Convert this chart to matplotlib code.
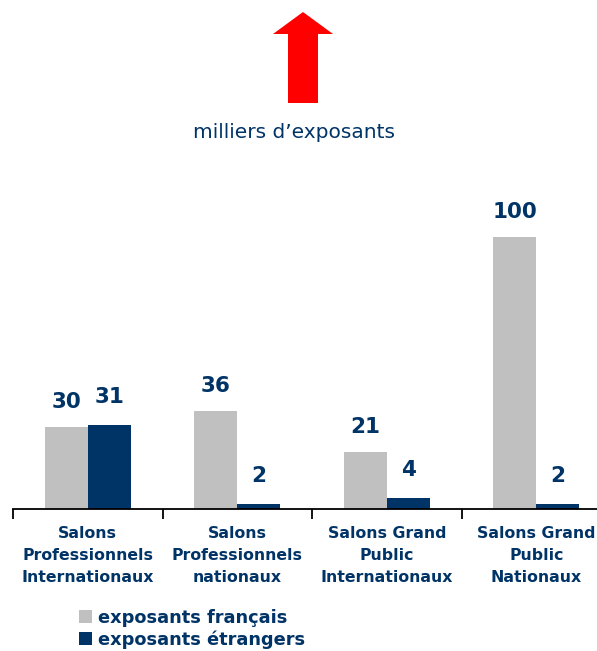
import matplotlib
matplotlib.use("Agg")
import matplotlib.pyplot as plt
from matplotlib.patches import Polygon
import numpy as np

categories = ["Salons\nProfessionnels\nInternationaux",
              "Salons\nProfessionnels\nnationaux",
              "Salons Grand\nPublic\nInternationaux",
              "Salons Grand\nPublic\nNationaux"]
francais = [30, 36, 21, 100]
etrangers = [31, 2, 4, 2]
series_names = ["exposants français", "exposants étrangers"]
unit_label = "milliers d\u2019exposants"

GRAY = "#c0c0c0"
NAVY = "#003366"

W, H = 597, 651
fig = plt.figure(figsize=(W / 100, H / 100), dpi=100)

# axes in pixel geometry
ax_left, ax_bottom_px, ax_w, ax_h = 13, 509, 598, 299.2
ax = fig.add_axes([ax_left / W, (H - ax_bottom_px) / H, ax_w / W, ax_h / H])

x = np.arange(len(categories))
bw = 0.288
ax.bar(x - bw / 2, francais, bw, color=GRAY, label=series_names[0])
ax.bar(x + bw / 2, etrangers, bw, color=NAVY, label=series_names[1])

for xi, v in zip(x - bw / 2, francais):
    ax.annotate(str(v), (xi, v), xytext=(0, 11), textcoords="offset points",
                ha="center", va="bottom", fontsize=15.5, fontweight="bold", color=NAVY)
for xi, v in zip(x + bw / 2, etrangers):
    ax.annotate(str(v), (xi, v), xytext=(0, 13), textcoords="offset points",
                ha="center", va="bottom", fontsize=15.5, fontweight="bold", color=NAVY)

ax.set_xlim(-0.5, len(categories) - 0.5)
ax.set_ylim(0, 110)
for s in ["top", "right", "left"]:
    ax.spines[s].set_visible(False)
ax.spines["bottom"].set_linewidth(1.3)
ax.set_yticks([])
ax.set_xticks(x)
ax.set_xticklabels(categories, fontsize=11.3, fontweight="bold", color=NAVY, linespacing=1.58)
ax.tick_params(axis="x", which="major", length=0, pad=12)
ax.set_xticks(np.arange(-0.5, len(categories) - 0.5 + 0.01, 1.0), minor=True)
ax.tick_params(axis="x", which="minor", length=7, width=1.3, direction="out")

# legend
handles, labels = ax.get_legend_handles_labels()
leg = fig.legend(handles, labels, loc="upper left", bbox_to_anchor=(72 / W, 1 - 602 / H),
                 frameon=False, prop={"size": 12.8, "weight": "bold"},
                 handlelength=0.75, handleheight=0.75, handletextpad=0.3, labelspacing=0.2,
                 borderaxespad=0.0)
for t in leg.get_texts():
    t.set_color(NAVY)

# unit label and red arrow
fig.text(294 / W, 1 - 133 / H, unit_label, ha="center", va="center", fontsize=14.5, color=NAVY)
pts = [(303, 12), (333, 34), (318, 34), (318, 103), (288, 103), (288, 34), (273, 34)]
arrow = Polygon([(px / W, 1 - py / H) for px, py in pts], closed=True,
                transform=fig.transFigure, facecolor="#ff0000", edgecolor="none")
fig.patches.append(arrow)

fig.savefig("out.png", dpi=100)
